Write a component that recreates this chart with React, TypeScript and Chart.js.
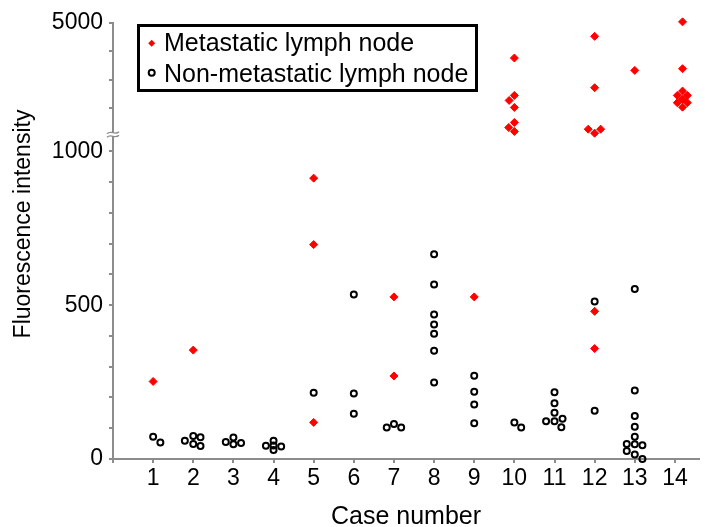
import React, { useEffect, useRef } from 'react';
import { Chart, registerables } from 'chart.js';

Chart.register(...registerables);

// ---- data ----
const caseNumbers = [1, 2, 3, 4, 5, 6, 7, 8, 9, 10, 11, 12, 13, 14];
const lowAxisLabels = [0, 500, 1000];
const highAxisLabels = [5000];
const breakValue = 1000;
const lowAxisTop = 1050;
const highAxisTop = 5000;

const seriesNames = ['Metastatic lymph node', 'Non-metastatic lymph node'];
const xTitle = 'Case number';
const yTitle = 'Fluorescence intensity';

// Metastatic lymph node: case (with swarm spread) and intensity
const metastaticX = [1, 2, 5, 5, 5, 7, 7, 9, 10, 10, 9.87, 10, 10, 9.86, 10, 12, 12, 11.84, 12, 12.15, 12, 12, 13, 14.19, 14.19, 14.19, 14.06, 14.31, 14.19, 14.06, 14.31, 14.19];
const metastaticY = [252, 354, 913, 697, 119, 527, 270, 527, 3760, 2436, 2259, 2011, 1479, 1301, 1160, 4528, 2709, 1241, 1099, 1241, 480, 359, 3323, 5040, 3383, 2589, 2436, 2436, 2294, 2177, 2177, 2021];

// Non-metastatic lymph node
const nonMetastaticX = [1, 1.18, 1.79, 2, 2.18, 2, 2.18, 2.81, 3, 3, 3.19, 3.81, 4, 4, 4, 4.19, 5, 6, 6, 6, 6.82, 7, 7.18, 8, 8, 8, 8, 8, 8, 8, 9, 9, 9, 9, 10, 10.17, 11, 11, 11, 10.79, 11, 11.2, 11.17, 12, 12, 13, 13, 13, 13, 13, 12.8, 13, 13.19, 12.8, 13, 13.19];
const nonMetastaticY = [72, 54, 59, 75, 71, 49, 42, 55, 70, 48, 52, 43, 59, 44, 29, 41, 215, 535, 213, 147, 102, 114, 102, 666, 567, 470, 437, 407, 352, 249, 271, 219, 177, 116, 119, 102, 217, 181, 150, 123, 123, 131, 103, 512, 157, 553, 223, 140, 105, 72, 49, 48, 45, 26, 15, 0];

// ---- styling ----
const FONT = "'Liberation Sans', Arial, Helvetica, sans-serif";
const AXIS_GRAY = '#8c8c8c';
const RED = '#ff0000';

function split(xs: number[], ys: number[]) {
  const low: { x: number; y: number }[] = [];
  const high: { x: number; y: number }[] = [];
  xs.forEach((x, i) => {
    const p = { x, y: ys[i] };
    if (ys[i] > breakValue) high.push(p);
    else low.push(p);
  });
  return { low, high };
}

const overlayPlugin = {
  id: 'overlay',
  afterDraw(chart: any) {
    const { ctx, chartArea } = chart;
    const yHigh = chart.scales.yHigh;
    const x0 = chartArea.left;
    const yb = yHigh.bottom - 1.5;
    ctx.save();
    // axis break mark
    ctx.fillStyle = '#ffffff';
    ctx.fillRect(x0 - 2, yb - 1.5, 4, 3);
    ctx.strokeStyle = AXIS_GRAY;
    ctx.lineWidth = 1.3;
    for (const dy of [-1.8, 1.8]) {
      ctx.beginPath();
      ctx.moveTo(x0 - 6, yb + dy + 1);
      ctx.bezierCurveTo(x0 - 2, yb + dy - 3, x0 + 2, yb + dy + 3, x0 + 6, yb + dy - 1);
      ctx.stroke();
    }
    // y title (spans both segments)
    ctx.save();
    ctx.fillStyle = '#000';
    ctx.font = `23px ${FONT}`;
    ctx.translate(23.5, 224);
    ctx.rotate(-Math.PI / 2);
    ctx.textAlign = 'center';
    ctx.textBaseline = 'middle';
    ctx.fillText(yTitle, 0, 0);
    ctx.restore();
    // legend
    const lx = x0 + 25.5;
    const ly = 25.5;
    ctx.lineWidth = 3;
    ctx.strokeStyle = '#000';
    ctx.strokeRect(lx, ly, 338, 65);
    const mx = x0 + 38.7;
    // diamond
    ctx.fillStyle = RED;
    ctx.beginPath();
    ctx.moveTo(mx - 3.5, 43.3);
    ctx.lineTo(mx, 39.8);
    ctx.lineTo(mx + 3.5, 43.3);
    ctx.lineTo(mx, 46.8);
    ctx.closePath();
    ctx.fill();
    // circle
    ctx.beginPath();
    ctx.arc(mx, 72.7, 3, 0, Math.PI * 2);
    ctx.lineWidth = 2;
    ctx.strokeStyle = '#000';
    ctx.stroke();
    ctx.fillStyle = '#000';
    ctx.font = `25px ${FONT}`;
    ctx.textAlign = 'left';
    ctx.textBaseline = 'alphabetic';
    ctx.fillText(seriesNames[0], x0 + 51, 51);
    ctx.fillText(seriesNames[1], x0 + 51, 81.5);
    ctx.restore();
  },
};

export default function App() {
  const canvasRef = useRef<HTMLCanvasElement | null>(null);

  useEffect(() => {
    const canvas = canvasRef.current;
    if (!canvas) return;
    const met = split(metastaticX, metastaticY);
    const non = split(nonMetastaticX, nonMetastaticY);

    const metStyle = {
      pointStyle: 'rectRot',
      pointRadius: 4,
      backgroundColor: RED,
      borderColor: RED,
      borderWidth: 1,
      showLine: false,
      clip: false,
    };
    const nonStyle = {
      pointStyle: 'circle',
      pointRadius: 3,
      backgroundColor: 'rgba(0,0,0,0)',
      borderColor: '#000',
      borderWidth: 2,
      showLine: false,
      clip: false,
    };

    const tickFont = { family: FONT, size: 23 };

    const chart = new Chart(canvas, {
      type: 'scatter',
      data: {
        datasets: [
          { label: seriesNames[1], data: non.low, yAxisID: 'yLow', ...nonStyle } as any,
          { label: seriesNames[1], data: non.high, yAxisID: 'yHigh', ...nonStyle } as any,
          { label: seriesNames[0], data: met.low, yAxisID: 'yLow', ...metStyle } as any,
          { label: seriesNames[0], data: met.high, yAxisID: 'yHigh', ...metStyle } as any,
        ],
      },
      options: {
        animation: false,
        responsive: false,
        events: [],
        layout: { padding: { top: 23, right: 5, left: 0, bottom: 0 } },
        plugins: {
          legend: { display: false },
          tooltip: { enabled: false },
        },
        scales: {
          x: {
            type: 'linear',
            position: 'bottom',
            min: 0,
            max: 14.6,
            afterFit: (s: any) => { s.height = 68; },
            grid: { drawOnChartArea: false, drawTicks: true, tickLength: 4, color: AXIS_GRAY, lineWidth: 2 },
            border: { color: AXIS_GRAY, width: 2 },
            ticks: {
              stepSize: 1,
              autoSkip: false,
              includeBounds: false,
              maxRotation: 0,
              color: '#000',
              font: tickFont,
              padding: 2,
              callback: (v: any) => (caseNumbers.includes(v) ? String(v) : v === 0 ? '' : null),
            },
            title: { display: true, text: xTitle, color: '#000', font: { family: FONT, size: 25 }, padding: { top: 0, bottom: -5 } },
          },
          yHigh: {
            type: 'linear',
            position: 'left',
            stack: 'y',
            stackWeight: 113,
            weight: 1,
            min: breakValue,
            max: highAxisTop,
            afterFit: (s: any) => { s.width = 113; },
            grid: { drawOnChartArea: false, drawTicks: true, tickLength: 4, color: AXIS_GRAY, lineWidth: 2 },
            border: { color: AXIS_GRAY, width: 2 },
            ticks: {
              stepSize: 1000,
              autoSkip: false,
              includeBounds: false,
              color: '#000',
              font: tickFont,
              padding: 6,
              callback: (v: any) => (v === breakValue ? null : highAxisLabels.includes(v) ? String(v) : ''),
            },
          },
          yLow: {
            type: 'linear',
            position: 'left',
            stack: 'y',
            stackWeight: 323,
            weight: 0,
            min: 0,
            max: lowAxisTop,
            afterFit: (s: any) => { s.width = 113; },
            grid: { drawOnChartArea: false, drawTicks: true, tickLength: 4, color: AXIS_GRAY, lineWidth: 2 },
            border: { color: AXIS_GRAY, width: 2 },
            ticks: {
              stepSize: 100,
              autoSkip: false,
              includeBounds: false,
              color: '#000',
              font: tickFont,
              padding: 6,
              callback: (v: any) => (lowAxisLabels.includes(v) ? String(v) : ''),
            },
          },
        },
      } as any,
      plugins: [overlayPlugin],
    });
    return () => chart.destroy();
  }, []);

  return (
    <div style={{ position: 'absolute', left: 0, top: 0, width: 705, height: 527, background: '#fff' }}>
      <canvas ref={canvasRef} width={705} height={527} />
    </div>
  );
}
